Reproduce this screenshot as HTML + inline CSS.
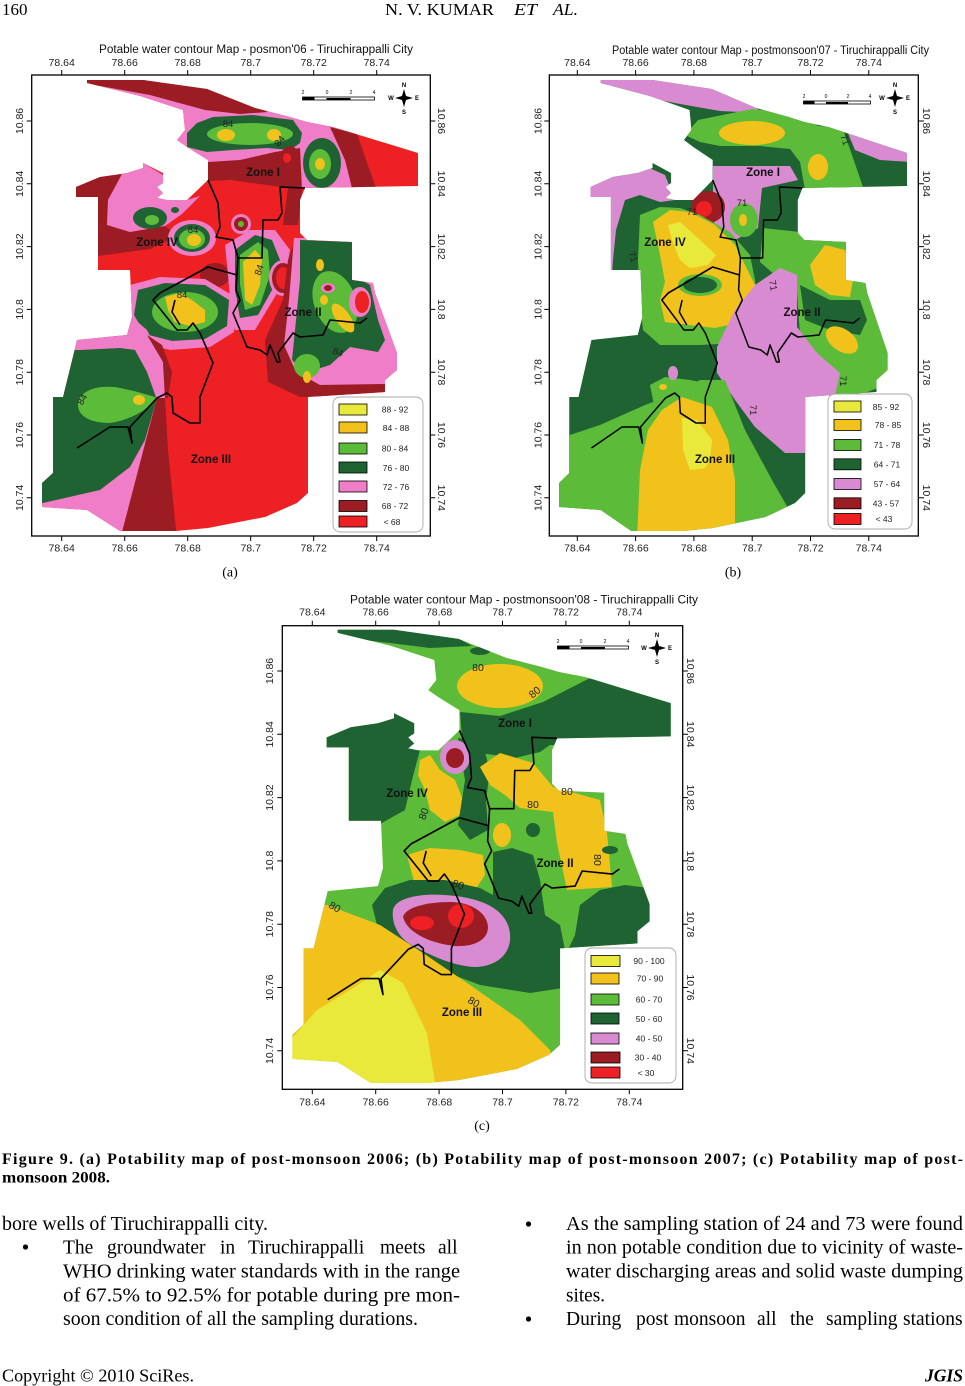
<!DOCTYPE html>
<html><head><meta charset="utf-8"><style>html,body{margin:0;padding:0;background:#fff}svg{display:block}</style></head>
<body>
<svg width="965" height="1386" viewBox="0 0 965 1386" xmlns="http://www.w3.org/2000/svg" xmlns:xlink="http://www.w3.org/1999/xlink" font-family="'Liberation Sans', Arial, sans-serif">
<defs>
<path id="outl" d="M87,80 L143,80 L207,89 L255,108 L290,117 L307,122 L333,127 L418,153 L418,186 L305,188 L300,200 L300,233 L307,240 L352,242 L352,280 L373,283 L375,293 L397,353 L397,370 L385,380 L385,392 L308,397 L308,493 L297,503 L265,517 L208,528 L176,531 L120,531 L87,510 L42,507 L42,483 L53,473 L53,397 L63,397 L77,340 L127,335 L132,317 L130,270 L98,270 L98,197 L76,197 L76,187 L100,177 L127,173 L143,168 L143,163 L157,170 L163,173 L163,183 L157,187 L163,193 L157,198 L167,200 L187,200 L208,180 L208,160 L187,147 L177,140 L185,130 L183,110 L140,96 L87,83 Z"/>
<g id="zl" fill="none" stroke="#000" stroke-width="1.6" stroke-linejoin="round">
<polyline points="305,188 280,187 282,213 278,220 263,220 262,258 237,258"/>
<polyline points="208,180 218,203 220,227 216,237 233,240 238,258 236,290 240,300 233,313 247,347 260,350 267,355 270,345 277,362 280,362 278,353 293,333 300,337 323,335 330,320 360,323 367,318"/>
<polyline points="237,275 208,267 160,293 153,300 177,330 187,330 193,323 200,333 213,363 200,397 200,423 190,423 173,413 172,397 167,393 157,398 130,427 132,443 128,427 110,427 77,448"/>
<polyline points="175,300 172,312 180,325"/>
</g>
<clipPath id="clipA"><use xlink:href="#outl"/></clipPath>
<clipPath id="clipB"><use xlink:href="#outl" transform="matrix(0.9254,0,0,1,520.2,0)"/></clipPath>
<clipPath id="clipC"><use xlink:href="#outl" transform="matrix(1.006,0,0,1.005,250.2,549.4)"/></clipPath>
</defs>

<!-- Header -->
<g font-family="'Liberation Serif', 'Times New Roman', serif" fill="#000">
<text x="2" y="15" font-size="17">160</text>
<text x="385" y="15" font-size="17" textLength="109" lengthAdjust="spacingAndGlyphs">N. V. KUMAR</text>
<text x="514" y="15" font-size="17" font-style="italic" textLength="23" lengthAdjust="spacingAndGlyphs">ET</text>
<text x="553" y="15" font-size="17" font-style="italic" textLength="25" lengthAdjust="spacingAndGlyphs">AL.</text>
</g>

<!-- ================= MAP A ================= -->
<g clip-path="url(#clipA)">
<rect x="30" y="70" width="400" height="470" fill="#ed2024"/>
<path fill="#ef7dc7" d="M87,80 L143,80 L207,89 L255,108 L290,117 L307,122 L333,127 L355,134 L372,188 L305,188 L290,185 L260,183 L208,178 L187,147 L177,140 L185,130 L183,110 L140,96 L87,83 Z"/>
<path fill="#9b1c22" d="M330,127 L357,134 L376,188 L352,188 L345,160 Z"/>
<path fill="#9b1c22" d="M80,78 L143,78 L207,87 L255,106 L268,112 L240,114 L205,110 L183,104 L150,95 L100,86 L80,84 Z"/>
<path fill="#1f6332" d="M187,133 L197,123 L213,117 L253,115 L293,120 L302,133 L300,143 L290,150 L267,148 L233,150 L207,152 L187,147 Z"/>
<ellipse fill="#5dbb3a" cx="250" cy="134" rx="43" ry="11"/>
<ellipse fill="#f2c21c" cx="226" cy="135" rx="9" ry="6"/>
<ellipse fill="#f2c21c" cx="274" cy="135" rx="7" ry="6"/>
<ellipse fill="#1f6332" cx="322" cy="163" rx="19" ry="25"/>
<ellipse fill="#5dbb3a" cx="320" cy="164" rx="11" ry="15"/>
<ellipse fill="#f2c21c" cx="320" cy="164" rx="5" ry="6"/>
<path fill="#9b1c22" d="M208,162 L240,160 L275,152 L300,148 L302,190 L298,225 L283,225 L288,188 L260,184 L230,180 L208,181 Z"/>
<ellipse fill="#9b1c22" cx="290" cy="160" rx="10" ry="14"/>
<ellipse fill="#ed2024" cx="287" cy="158" rx="4" ry="5"/>
<path fill="#9b1c22" d="M70,185 L100,177 L122,174 L108,200 L107,225 L130,232 L165,226 L178,236 L150,249 L120,253 L98,256 L98,197 L70,197 Z"/>
<path fill="#ef7dc7" d="M100,177 L127,173 L143,163 L163,175 L167,200 L187,200 L200,196 L182,214 L165,226 L130,232 L107,225 L108,200 L122,174 Z"/>
<ellipse fill="#1f6332" cx="150" cy="218" rx="17" ry="11"/>
<ellipse fill="#5dbb3a" cx="152" cy="220" rx="7" ry="5"/>
<ellipse fill="#ef7dc7" cx="175" cy="210" rx="6" ry="5"/>
<ellipse fill="#1f6332" cx="175" cy="210" rx="4" ry="3"/>
<ellipse fill="#9b1c22" cx="215" cy="275" rx="15" ry="12"/>
<ellipse fill="#ef7dc7" cx="192" cy="238" rx="24" ry="18"/>
<ellipse fill="#1f6332" cx="192" cy="238" rx="18" ry="14"/>
<ellipse fill="#5dbb3a" cx="192" cy="239" rx="13" ry="10"/>
<ellipse fill="#f2c21c" cx="194" cy="240" rx="7" ry="6"/>
<circle fill="#ef7dc7" cx="241" cy="224" r="10"/>
<circle fill="#9b1c22" cx="241" cy="224" r="7"/>
<circle fill="#5dbb3a" cx="241" cy="224" r="3"/>
<path fill="#ef7dc7" d="M225,245 L250,230 L275,230 L290,250 L285,280 L270,305 L255,330 L235,330 L230,300 L228,275 Z"/>
<path fill="#1f6332" d="M235,250 L255,235 L272,240 L280,260 L272,290 L258,315 L240,318 L235,290 Z"/>
<path fill="#5dbb3a" d="M240,255 L258,242 L268,250 L270,275 L260,305 L245,310 L240,285 Z"/>
<path fill="#f2c21c" d="M243,262 L255,250 L262,258 L260,285 L252,305 L245,300 L244,280 Z"/>
<ellipse fill="#ef7dc7" cx="283" cy="278" rx="14" ry="18"/>
<ellipse fill="#9b1c22" cx="283" cy="278" rx="11" ry="15"/>
<ellipse fill="#ed2024" cx="283" cy="278" rx="7" ry="11"/>
<path fill="#ef7dc7" d="M130,285 L160,277 L205,279 L237,298 L234,332 L210,347 L170,350 L140,342 L128,320 Z"/>
<path fill="#1f6332" d="M138,290 L165,283 L205,285 L229,300 L227,326 L205,339 L172,341 L145,334 L134,315 Z"/>
<ellipse fill="#5dbb3a" cx="185" cy="312" rx="33" ry="20"/>
<path fill="#f2c21c" d="M165,297 L180,293 L192,300 L205,310 L205,322 L190,326 L175,322 L168,310 Z"/>
<path fill="#9b1c22" d="M265,340 L283,300 L288,260 L296,238 L310,240 L302,300 L298,350 L322,372 L390,368 L390,395 L300,397 L268,382 Z"/>
<path fill="#ef7dc7" d="M284,345 L289,300 L294,238 L310,238 L355,240 L355,275 L376,283 L378,293 L400,353 L400,372 L386,384 L320,385 L296,372 Z"/>
<path fill="#1f6332" d="M300,240 L352,242 L352,275 L370,285 L378,320 L385,340 L378,352 L350,347 L330,365 L305,373 L292,360 L296,320 L300,280 Z"/>
<ellipse fill="#5dbb3a" cx="335" cy="302" rx="21" ry="32" transform="rotate(-20 335 302)"/>
<ellipse fill="#5dbb3a" cx="307" cy="366" rx="13" ry="12"/>
<ellipse fill="#f2c21c" cx="343" cy="318" rx="7" ry="17" transform="rotate(-35 343 318)"/>
<ellipse fill="#f2c21c" cx="307" cy="377" rx="4" ry="6"/>
<ellipse fill="#f2c21c" cx="320" cy="265" rx="4" ry="6"/>
<ellipse fill="#f2c21c" cx="324" cy="300" rx="4" ry="5"/>
<ellipse fill="#ef7dc7" cx="360" cy="302" rx="11" ry="15"/>
<ellipse fill="#ed2024" cx="362" cy="302" rx="7" ry="11"/>
<ellipse fill="#ef7dc7" cx="328" cy="288" rx="7" ry="5"/>
<ellipse fill="#9b1c22" cx="328" cy="288" rx="4" ry="3"/>
<path fill="#1f6332" d="M30,540 L30,470 L53,470 L53,397 L63,397 L77,340 L127,335 L132,317 L145,330 L157,398 L145,440 L130,467 L100,490 L43,503 L30,503 Z"/>
<path fill="#ef7dc7" d="M70,338 L127,333 L132,317 L147,330 L163,362 L165,398 L157,400 L147,372 L135,350 L120,348 L80,350 L70,350 Z"/>
<path fill="#ef7dc7" d="M157,398 L120,540 L30,540 L30,503 L43,503 L100,490 L130,467 L145,440 Z"/>
<path fill="#9b1c22" d="M165,398 L168,450 L177,540 L120,540 L157,398 Z"/>
<path fill="#9b1c22" d="M147,335 L162,345 L172,372 L168,398 L165,398 L163,362 Z"/>
<path fill="#5dbb3a" d="M78,405 C78,390 100,384 120,388 C135,391 150,395 157,398 C148,410 130,420 110,423 C90,423 78,416 78,405 Z"/>
<ellipse fill="#f2c21c" cx="139" cy="400" rx="6" ry="5"/>
</g>
<use xlink:href="#zl"/>

<!-- ================= MAP B ================= -->
<g clip-path="url(#clipB)">
<rect x="540" y="70" width="385" height="470" fill="#1f6332"/>
<path fill="#d98bd1" d="M595,78 L652,78 L712,87 L756,106 L760,113 L720,111 L680,104 L650,98 L620,91 L595,85 Z"/>
<path fill="#5dbb3a" d="M685,135 L698,120 L752,109 L800,114 L818,126 L842,127 L852,155 L864,190 L805,190 L800,162 L790,149 L760,146 L720,146 L700,142 Z"/>
<path fill="#d98bd1" d="M845,126 L862,131 L912,150 L912,162 L880,160 L855,150 Z"/>
<ellipse fill="#f2c21c" cx="752" cy="133" rx="33" ry="12"/>
<ellipse fill="#f2c21c" cx="818" cy="167" rx="10" ry="13"/>
<path fill="#d98bd1" d="M713,166 L790,166 L798,180 L762,188 L758,228 L735,240 L720,235 L713,220 Z"/>
<ellipse fill="#9b1c22" cx="708" cy="207" rx="17" ry="16"/>
<ellipse fill="#ed2024" cx="704" cy="209" rx="8" ry="8"/>
<ellipse fill="#5dbb3a" cx="744" cy="220" rx="14" ry="17"/>
<ellipse fill="#f2c21c" cx="743" cy="220" rx="4" ry="6"/>
<path fill="#d98bd1" d="M585,190 L620,171 L645,166 L665,175 L675,200 L660,202 L640,195 L625,200 L616,230 L613,260 L612,275 L585,280 Z"/>
<path fill="#5dbb3a" d="M640,215 L660,207 L680,208 L700,215 L730,232 L750,255 L755,280 L757,300 L752,325 L737,343 L700,345 L660,345 L643,330 L640,300 L638,260 Z"/>
<path fill="#f2c21c" d="M653,222 L670,210 L690,212 L715,225 L735,245 L745,265 L755,285 L752,305 L742,322 L715,328 L690,325 L665,322 L660,300 L665,282 L660,255 Z"/>
<ellipse fill="#5dbb3a" cx="700" cy="285" rx="22" ry="11"/>
<ellipse fill="#1f6332" cx="700" cy="285" rx="17" ry="8"/>
<path fill="#e9e93b" d="M668,225 L680,222 L700,240 L716,255 L708,265 L690,268 L680,260 L672,240 Z"/>
<path fill="#5dbb3a" d="M763,228 L800,232 L840,238 L865,245 L870,270 L880,300 L885,330 L890,360 L885,385 L860,395 L833,393 L820,365 L800,335 L797,292 L775,275 L760,262 Z"/>
<path fill="#f2c21c" d="M810,265 L825,245 L845,250 L853,280 L850,297 L830,295 L815,285 Z"/>
<path fill="#1f6332" d="M800,285 L830,300 L860,300 L867,320 L860,335 L830,330 L805,320 Z"/>
<ellipse fill="#f2c21c" cx="842" cy="340" rx="18" ry="11" transform="rotate(35 842 340)"/>
<path fill="#d98bd1" d="M780,268 L797,275 L797,327 L817,353 L840,373 L835,395 L812,405 L805,453 L785,453 L755,427 L735,400 L717,373 L717,347 L735,310 L755,285 Z"/>
<path fill="#5dbb3a" d="M650,385 L665,377 L690,380 L715,385 L720,410 L700,420 L655,410 Z"/>
<path fill="#5dbb3a" d="M540,445 L600,425 L645,405 L680,392 L700,380 L725,380 L745,430 L772,480 L792,515 L792,545 L540,545 Z"/>
<path fill="#f2c21c" d="M637,540 L640,470 L648,430 L662,410 L682,397 L712,407 L728,440 L735,480 L735,540 Z"/>
<path fill="#e9e93b" d="M682,418 L697,420 L712,440 L710,460 L705,468 L690,470 L683,450 Z"/>
<ellipse fill="#d98bd1" cx="673" cy="373" rx="5" ry="7"/>
<ellipse fill="#f2c21c" cx="663" cy="387" rx="4" ry="3"/>
</g>
<use xlink:href="#zl" transform="matrix(0.9254,0,0,1,520.2,0)"/>

<!-- ================= MAP C ================= -->
<g clip-path="url(#clipC)">
<rect x="280" y="620" width="405" height="475" fill="#5dbb3a"/>
<path fill="#1f6332" d="M330,628 L394,628 L458,638 L472,646 L430,648 L390,643 L330,636 Z"/>
<ellipse fill="#1f6332" cx="480" cy="651" rx="10" ry="4"/>
<ellipse fill="#f2c21c" cx="500" cy="686" rx="43" ry="22"/>
<path fill="#1f6332" d="M460,712 L500,716 L543,702 L590,678 L640,690 L680,702 L680,745 L600,745 L550,745 L540,752 L515,758 L480,753 L462,738 Z"/>
<path fill="#1f6332" d="M320,700 L390,700 L415,720 L420,750 L412,780 L405,810 L380,824 L345,824 L320,780 Z"/>
<path fill="#f2c21c" d="M420,760 L430,755 L440,770 L455,780 L463,800 L460,815 L445,822 L430,810 L425,790 L418,775 Z"/>
<path fill="#1f6332" d="M458,738 L482,742 L490,770 L486,800 L488,830 L470,840 L458,825 L465,780 Z"/>
<ellipse fill="#d98bd1" cx="455" cy="757" rx="15" ry="17"/>
<ellipse fill="#9b1c22" cx="455" cy="758" rx="9" ry="10"/>
<path fill="#f2c21c" d="M480,767 L500,753 L533,763 L553,787 L600,800 L607,833 L612,887 L567,890 L557,843 L553,812 L520,808 L505,795 L490,785 Z"/>
<ellipse fill="#f2c21c" cx="502" cy="835" rx="9" ry="12"/>
<ellipse fill="#1f6332" cx="533" cy="830" rx="7" ry="7"/>
<ellipse fill="#1f6332" cx="610" cy="850" rx="8" ry="4"/>
<path fill="#f2c21c" d="M407,855 L430,848 L460,850 L483,855 L485,875 L475,890 L440,893 L415,885 Z"/>
<path fill="#1f6332" d="M372,905 L385,888 L410,880 L445,880 L480,888 L493,895 L493,852 L512,848 L533,855 L540,880 L545,915 L560,925 L565,950 L563,988 L530,993 L480,985 L440,970 L410,955 L380,937 Z"/>
<path fill="#1f6332" d="M580,905 L600,890 L625,885 L650,888 L662,945 L600,956 L565,956 L575,935 Z"/>
<path fill="#d98bd1" d="M393,910 C395,898 420,893 445,895 C475,897 500,905 508,925 C515,945 505,965 477,967 C455,967 430,955 415,947 C400,940 391,925 393,910 Z"/>
<path fill="#9b1c22" d="M403,917 C405,908 425,902 450,902 C470,902 487,912 488,927 C488,942 470,947 455,946 C435,944 408,935 403,917 Z"/>
<ellipse fill="#ed2024" cx="422" cy="923" rx="12" ry="7"/>
<ellipse fill="#ed2024" cx="461" cy="916" rx="13" ry="12"/>
<path fill="#f2c21c" d="M285,900 L327,905 L380,925 L423,953 L470,985 L520,1020 L550,1050 L562,1095 L285,1095 Z"/>
<path fill="#e9e93b" d="M285,1040 L293,1037 L317,1010 L350,990 L380,970 L403,983 L427,1033 L437,1095 L285,1095 Z"/>
</g>
<use xlink:href="#zl" transform="matrix(1.006,0,0,1.005,250.2,549.4)"/>

<!-- zone labels -->
<g font-weight="bold" font-size="11.5" fill="#111" text-anchor="middle">
<text x="263" y="176">Zone I</text><text x="157" y="246">Zone IV</text><text x="303" y="316">Zone II</text><text x="211" y="463">Zone III</text>
<text x="763" y="176">Zone I</text><text x="665" y="246">Zone IV</text><text x="802" y="316">Zone II</text><text x="715" y="463">Zone III</text>
<text x="515" y="727">Zone I</text><text x="407" y="797">Zone IV</text><text x="555" y="867">Zone II</text><text x="462" y="1016">Zone III</text>
</g>
<!-- contour labels -->
<g font-size="9.5" fill="#222" text-anchor="middle">
<text x="228" y="127">84</text><text transform="translate(282,143) rotate(-50)">84</text><text x="193" y="233">84</text><text transform="translate(262,271) rotate(-70)">84</text><text x="182" y="298">84</text><text transform="translate(337,355) rotate(20)">84</text><text transform="translate(85,401) rotate(-60)">84</text>
<text transform="translate(842,141) rotate(70)">71</text><text x="692" y="215">71</text><text x="742" y="206">71</text><text transform="translate(630,258) rotate(70)">71</text><text transform="translate(770,286) rotate(80)">71</text><text transform="translate(840,381) rotate(90)">71</text><text transform="translate(750,410) rotate(90)">71</text>
<text x="478" y="671" font-size="10.5">80</text><text transform="translate(537,695) rotate(-40)" font-size="10.5">80</text><text x="567" y="795" font-size="10.5">80</text><text x="533" y="808" font-size="10.5">80</text><text transform="translate(427,815) rotate(-70)" font-size="10.5">80</text><text transform="translate(594,860) rotate(90)" font-size="10.5">80</text><text transform="translate(457,888) rotate(20)" font-size="10.5">80</text><text transform="translate(333,910) rotate(30)" font-size="10.5">80</text><text transform="translate(472,1005) rotate(30)" font-size="10.5">80</text>
</g>

<!-- scale bars and compasses -->
<g>
<rect x="302.5" y="97" width="72" height="3" fill="#fff" stroke="#000" stroke-width="0.8"/>
<rect x="302.5" y="97" width="12" height="3" fill="#000"/><rect x="326.5" y="98" width="24" height="2" fill="#000"/>
<g font-size="5" text-anchor="middle"><text x="303" y="94">2</text><text x="327" y="94">0</text><text x="351" y="94">2</text><text x="374" y="94">4</text></g>
<rect x="803.5" y="101" width="67" height="3" fill="#fff" stroke="#000" stroke-width="0.8"/>
<rect x="803.5" y="101" width="11" height="3" fill="#000"/><rect x="826" y="102" width="22" height="2" fill="#000"/>
<g font-size="5" text-anchor="middle"><text x="804" y="98">2</text><text x="826" y="98">0</text><text x="848" y="98">2</text><text x="870" y="98">4</text></g>
<rect x="557.5" y="646" width="71" height="3" fill="#fff" stroke="#000" stroke-width="0.8"/>
<rect x="557.5" y="646" width="12" height="3" fill="#000"/><rect x="581" y="647" width="24" height="2" fill="#000"/>
<g font-size="5" text-anchor="middle"><text x="558" y="643">2</text><text x="581" y="643">0</text><text x="605" y="643">2</text><text x="628" y="643">4</text></g>
</g>
<g font-size="6" font-weight="bold" text-anchor="middle">
<g transform="translate(404,98)"><polygon points="0,-9 2,-2 9,0 2,2 0,9 -2,2 -9,0 -2,-2" fill="#000"/><text y="-11">N</text><text y="16">S</text><text x="-13" y="2">W</text><text x="13" y="2">E</text></g>
<g transform="translate(895,98)"><polygon points="0,-9 2,-2 9,0 2,2 0,9 -2,2 -9,0 -2,-2" fill="#000"/><text y="-11">N</text><text y="16">S</text><text x="-13" y="2">W</text><text x="13" y="2">E</text></g>
<g transform="translate(657,648)"><polygon points="0,-9 2,-2 9,0 2,2 0,9 -2,2 -9,0 -2,-2" fill="#000"/><text y="-11">N</text><text y="16">S</text><text x="-13" y="2">W</text><text x="13" y="2">E</text></g>
</g>

<!-- frames -->
<g fill="none" stroke="#000" stroke-width="1.3">
<rect x="31.7" y="75" width="398.6" height="461"/>
<rect x="549.3" y="75" width="369" height="461"/>
<rect x="282.3" y="625.7" width="400.4" height="463.6"/>
</g>
<!-- ticks -->
<g stroke="#000" stroke-width="1">
<path d="M61.7,75v-5M124.7,75v-5M187.7,75v-5M250.7,75v-5M313.7,75v-5M376.7,75v-5M61.7,536v5M124.7,536v5M187.7,536v5M250.7,536v5M313.7,536v5M376.7,536v5"/>
<path d="M31.7,121h-5M31.7,183.8h-5M31.7,246.6h-5M31.7,309.4h-5M31.7,372.2h-5M31.7,435h-5M31.7,497.8h-5M430.3,121h5M430.3,183.8h5M430.3,246.6h5M430.3,309.4h5M430.3,372.2h5M430.3,435h5M430.3,497.8h5"/>
<path d="M577.3,75v-5M635.6,75v-5M693.9,75v-5M752.2,75v-5M810.5,75v-5M868.8,75v-5M577.3,536v5M635.6,536v5M693.9,536v5M752.2,536v5M810.5,536v5M868.8,536v5"/>
<path d="M549.3,121h-5M549.3,183.8h-5M549.3,246.6h-5M549.3,309.4h-5M549.3,372.2h-5M549.3,435h-5M549.3,497.8h-5M918.3,121h5M918.3,183.8h5M918.3,246.6h5M918.3,309.4h5M918.3,372.2h5M918.3,435h5M918.3,497.8h5"/>
<path d="M312.3,625.7v-5M375.7,625.7v-5M439.1,625.7v-5M502.5,625.7v-5M565.9,625.7v-5M629.3,625.7v-5M312.3,1089.3v5M375.7,1089.3v5M439.1,1089.3v5M502.5,1089.3v5M565.9,1089.3v5M629.3,1089.3v5"/>
<path d="M282.3,671h-5M282.3,734.3h-5M282.3,797.6h-5M282.3,860.9h-5M282.3,924.2h-5M282.3,987.5h-5M282.3,1050.8h-5M682.7,671h5M682.7,734.3h5M682.7,797.6h5M682.7,860.9h5M682.7,924.2h5M682.7,987.5h5M682.7,1050.8h5"/>
</g>

<!-- titles -->
<g font-size="11.5" fill="#111">
<text x="99" y="53" textLength="314" lengthAdjust="spacingAndGlyphs">Potable water contour Map -  posmon'06 - Tiruchirappalli City</text>
<text x="612" y="54" textLength="317" lengthAdjust="spacingAndGlyphs">Potable water contour Map -  postmonsoon'07 - Tiruchirappalli City</text>
<text x="350" y="603.5" font-size="12" textLength="348" lengthAdjust="spacingAndGlyphs">Potable water contour  Map -  postmonsoon'08 - Tiruchirappalli City</text>
</g>

<!-- tick labels -->
<g font-size="10.5" fill="#222" text-anchor="middle">
<text x="61.7" y="66">78.64</text><text x="124.7" y="66">78.66</text><text x="187.7" y="66">78.68</text><text x="250.7" y="66">78.7</text><text x="313.7" y="66">78.72</text><text x="376.7" y="66">78.74</text>
<text x="61.7" y="551.5">78.64</text><text x="124.7" y="551.5">78.66</text><text x="187.7" y="551.5">78.68</text><text x="250.7" y="551.5">78.7</text><text x="313.7" y="551.5">78.72</text><text x="376.7" y="551.5">78.74</text>
<text transform="translate(23,121) rotate(-90)">10.86</text><text transform="translate(23,183.8) rotate(-90)">10.84</text><text transform="translate(23,246.6) rotate(-90)">10.82</text><text transform="translate(23,309.4) rotate(-90)">10.8</text><text transform="translate(23,372.2) rotate(-90)">10.78</text><text transform="translate(23,435) rotate(-90)">10.76</text><text transform="translate(23,497.8) rotate(-90)">10.74</text>
<text transform="translate(438,121) rotate(90)">10.86</text><text transform="translate(438,183.8) rotate(90)">10.84</text><text transform="translate(438,246.6) rotate(90)">10.82</text><text transform="translate(438,309.4) rotate(90)">10.8</text><text transform="translate(438,372.2) rotate(90)">10.78</text><text transform="translate(438,435) rotate(90)">10.76</text><text transform="translate(438,497.8) rotate(90)">10.74</text>

<text x="577.3" y="66">78.64</text><text x="635.6" y="66">78.66</text><text x="693.9" y="66">78.68</text><text x="752.2" y="66">78.7</text><text x="810.5" y="66">78.72</text><text x="868.8" y="66">78.74</text>
<text x="577.3" y="551.5">78.64</text><text x="635.6" y="551.5">78.66</text><text x="693.9" y="551.5">78.68</text><text x="752.2" y="551.5">78.7</text><text x="810.5" y="551.5">78.72</text><text x="868.8" y="551.5">78.74</text>
<text transform="translate(541.5,121) rotate(-90)">10.86</text><text transform="translate(541.5,183.8) rotate(-90)">10.84</text><text transform="translate(541.5,246.6) rotate(-90)">10.82</text><text transform="translate(541.5,309.4) rotate(-90)">10.8</text><text transform="translate(541.5,372.2) rotate(-90)">10.78</text><text transform="translate(541.5,435) rotate(-90)">10.76</text><text transform="translate(541.5,497.8) rotate(-90)">10.74</text>
<text transform="translate(923,121) rotate(90)">10.86</text><text transform="translate(923,183.8) rotate(90)">10.84</text><text transform="translate(923,246.6) rotate(90)">10.82</text><text transform="translate(923,309.4) rotate(90)">10.8</text><text transform="translate(923,372.2) rotate(90)">10.78</text><text transform="translate(923,435) rotate(90)">10.76</text><text transform="translate(923,497.8) rotate(90)">10.74</text>

<text x="312.3" y="615.5">78.64</text><text x="375.7" y="615.5">78.66</text><text x="439.1" y="615.5">78.68</text><text x="502.5" y="615.5">78.7</text><text x="565.9" y="615.5">78.72</text><text x="629.3" y="615.5">78.74</text>
<text x="312.3" y="1105.5">78.64</text><text x="375.7" y="1105.5">78.66</text><text x="439.1" y="1105.5">78.68</text><text x="502.5" y="1105.5">78.7</text><text x="565.9" y="1105.5">78.72</text><text x="629.3" y="1105.5">78.74</text>
<text transform="translate(273,671) rotate(-90)">10.86</text><text transform="translate(273,734.3) rotate(-90)">10.84</text><text transform="translate(273,797.6) rotate(-90)">10.82</text><text transform="translate(273,860.9) rotate(-90)">10.8</text><text transform="translate(273,924.2) rotate(-90)">10.78</text><text transform="translate(273,987.5) rotate(-90)">10.76</text><text transform="translate(273,1050.8) rotate(-90)">10.74</text>
<text transform="translate(687,671) rotate(90)">10.86</text><text transform="translate(687,734.3) rotate(90)">10.84</text><text transform="translate(687,797.6) rotate(90)">10.82</text><text transform="translate(687,860.9) rotate(90)">10.8</text><text transform="translate(687,924.2) rotate(90)">10.78</text><text transform="translate(687,987.5) rotate(90)">10.76</text><text transform="translate(687,1050.8) rotate(90)">10.74</text>
</g>

<!-- legends -->
<g>
<rect x="333" y="397" width="90" height="135" rx="7" fill="#fff" stroke="#a8a8a8" stroke-width="0.9"/>
<g stroke="#000" stroke-width="0.8">
<rect x="339" y="404" width="28" height="11" fill="#e9e93b"/><rect x="339" y="422" width="28" height="11" fill="#f2c21c"/><rect x="339" y="443" width="28" height="11" fill="#5dbb3a"/><rect x="339" y="462" width="28" height="11" fill="#1f6332"/><rect x="339" y="481" width="28" height="11" fill="#ef7dc7"/><rect x="339" y="500.5" width="28" height="11" fill="#9b1c22"/><rect x="339" y="516" width="28" height="11" fill="#ed2024"/>
</g>
<g font-size="8.5" fill="#222" text-anchor="middle">
<text x="395" y="412.5">88 - 92</text><text x="396" y="431">84 - 88</text><text x="395" y="451.5">80 - 84</text><text x="396" y="471">76 - 80</text><text x="396" y="490">72 - 76</text><text x="395" y="509">68 - 72</text><text x="392" y="525">&lt;  68</text>
</g>

<rect x="828" y="394" width="84" height="135" rx="7" fill="#fff" stroke="#a8a8a8" stroke-width="0.9"/>
<g stroke="#000" stroke-width="0.8">
<rect x="834" y="401" width="27" height="11" fill="#e9e93b"/><rect x="834" y="419.5" width="27" height="11" fill="#f2c21c"/><rect x="834" y="439.5" width="27" height="11" fill="#5dbb3a"/><rect x="834" y="458.8" width="27" height="11" fill="#1f6332"/><rect x="834" y="478.5" width="27" height="11" fill="#d98bd1"/><rect x="834" y="497.8" width="27" height="11" fill="#9b1c22"/><rect x="834" y="513.5" width="27" height="11" fill="#ed2024"/>
</g>
<g font-size="8.5" fill="#222" text-anchor="middle">
<text x="886" y="410">85 - 92</text><text x="888" y="428">78 - 85</text><text x="887" y="448">71 - 78</text><text x="887" y="467.5">64 - 71</text><text x="887" y="487">57 - 64</text><text x="886" y="506.5">43 - 57</text><text x="884" y="522">&lt;  43</text>
</g>

<rect x="585" y="948" width="91" height="135" rx="7" fill="#fff" stroke="#a8a8a8" stroke-width="0.9"/>
<g stroke="#000" stroke-width="0.8">
<rect x="591" y="955.5" width="29" height="11" fill="#e9e93b"/><rect x="591" y="973" width="28" height="11" fill="#f2c21c"/><rect x="591" y="994" width="28" height="11" fill="#5dbb3a"/><rect x="591" y="1013" width="28" height="11" fill="#1f6332"/><rect x="591" y="1033" width="28" height="11" fill="#d98bd1"/><rect x="591" y="1052" width="29" height="11" fill="#9b1c22"/><rect x="591" y="1067" width="29" height="11" fill="#ed2024"/>
</g>
<g font-size="8.5" fill="#222" text-anchor="middle">
<text x="649" y="964">90 - 100</text><text x="650" y="981.5">70 - 90</text><text x="649" y="1002.5">60 - 70</text><text x="649" y="1022">50 - 60</text><text x="649" y="1041.5">40 - 50</text><text x="648" y="1060.5">30 - 40</text><text x="646" y="1076">&lt;  30</text>
</g>
</g>

<!-- panel labels -->
<g font-family="'Liberation Serif', 'Times New Roman', serif" font-size="14" text-anchor="middle" fill="#000">
<text x="230" y="576.5">(a)</text><text x="733" y="576.5">(b)</text><text x="482" y="1130">(c)</text>
</g>

<!-- caption -->
<g font-family="'Liberation Serif', 'Times New Roman', serif" font-weight="bold" font-size="16" fill="#000">
<text x="2" y="1164" textLength="961" lengthAdjust="spacing">Figure 9. (a) Potability map of post-monsoon 2006; (b) Potability map of post-monsoon 2007; (c) Potability map of post-</text>
<text x="2" y="1182.5" textLength="108" lengthAdjust="spacingAndGlyphs">monsoon 2008.</text>
</g>

<!-- body text -->
<g font-family="'Liberation Serif', 'Times New Roman', serif" font-size="19.5" fill="#000">
<text x="2" y="1230" textLength="266" lengthAdjust="spacingAndGlyphs">bore wells of Tiruchirappalli city.</text>
<circle cx="25.5" cy="1247" r="2.6"/>
<text y="1253.5"><tspan x="63">The</tspan><tspan x="107">groundwater</tspan><tspan x="220">in</tspan><tspan x="248">Tiruchirappalli</tspan><tspan x="380">meets</tspan><tspan x="438">all</tspan></text>
<text x="63" y="1277.7" textLength="397" lengthAdjust="spacingAndGlyphs">WHO drinking water standards with in the range</text>
<text x="63" y="1301.7" textLength="397" lengthAdjust="spacingAndGlyphs">of 67.5% to 92.5% for potable during pre mon-</text>
<text x="63" y="1325" textLength="355" lengthAdjust="spacingAndGlyphs">soon condition of all the sampling durations.</text>

<circle cx="528.5" cy="1224" r="2.6"/>
<text x="566" y="1230" textLength="397" lengthAdjust="spacingAndGlyphs">As the sampling station of 24 and 73 were found</text>
<text x="566" y="1253.5" textLength="397" lengthAdjust="spacingAndGlyphs">in non potable condition due to vicinity of waste-</text>
<text x="566" y="1277.7" textLength="397" lengthAdjust="spacingAndGlyphs">water discharging areas and solid waste dumping</text>
<text x="566" y="1301.7" textLength="39" lengthAdjust="spacingAndGlyphs">sites.</text>
<circle cx="528.5" cy="1319" r="2.6"/>
<text y="1325"><tspan x="566">During</tspan><tspan x="636">post</tspan><tspan x="674">monsoon</tspan><tspan x="757">all</tspan><tspan x="790">the</tspan><tspan x="826">sampling</tspan><tspan x="903">stations</tspan></text>

<text x="2" y="1381.5" font-size="18" textLength="192" lengthAdjust="spacingAndGlyphs">Copyright © 2010 SciRes.</text>
<text x="925" y="1381.5" font-size="18" font-weight="bold" font-style="italic" textLength="38" lengthAdjust="spacingAndGlyphs">JGIS</text>
</g>
</svg>
</body></html>
